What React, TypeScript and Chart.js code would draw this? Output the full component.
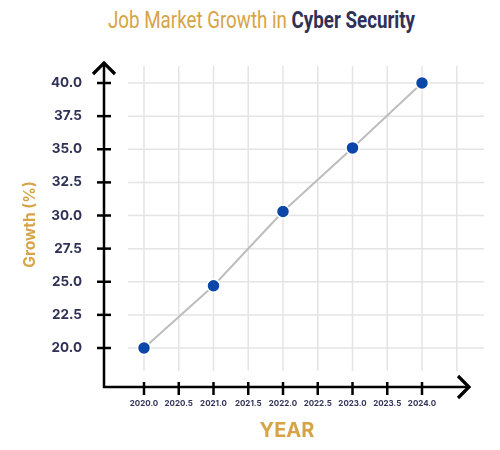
import React, { useEffect, useLayoutEffect, useRef } from "react";
import { Chart, registerables } from "chart.js";

Chart.register(...registerables);

const years = [2020, 2021, 2022, 2023, 2024];
const growth = [20, 24.7, 30.3, 35.1, 40];
const yTicks = [20, 22.5, 25, 27.5, 30, 32.5, 35, 37.5, 40];
const xTicks = [2020, 2020.5, 2021, 2021.5, 2022, 2022.5, 2023, 2023.5, 2024];
const xGridExtra = [2024.5];

const GOLD = "#D6A446";
const NAVY = "#2F3157";

const axesPlugin = {
  id: "handAxes",
  beforeDatasetsDraw(chart: any) {
    const { ctx, chartArea, scales } = chart;
    const xs = scales.x;
    const ys = scales.y;
    ctx.save();
    ctx.strokeStyle = "#e4e4e4";
    ctx.lineWidth = 1.5;
    yTicks.forEach((v) => {
      const y = ys.getPixelForValue(v);
      ctx.beginPath();
      ctx.moveTo(chartArea.left + 24, y);
      ctx.lineTo(chartArea.right + 14, y);
      ctx.stroke();
    });
    [...xTicks, ...xGridExtra].forEach((v) => {
      const x = xs.getPixelForValue(v);
      ctx.beginPath();
      ctx.moveTo(x, chartArea.top + 4);
      ctx.lineTo(x, chartArea.bottom - 16);
      ctx.stroke();
    });
    ctx.restore();
  },
  afterDraw(chart: any) {
    const { ctx, chartArea, scales } = chart;
    const xs = scales.x;
    const ys = scales.y;
    const L = chartArea.left;
    const B = chartArea.bottom;
    ctx.save();
    ctx.strokeStyle = "#000";
    ctx.lineCap = "butt";
    ctx.lineWidth = 2.5;
    ctx.beginPath();
    ctx.moveTo(L, chartArea.top + 1);
    ctx.lineTo(L, B);
    ctx.lineTo(chartArea.right - 1, B);
    ctx.stroke();
    yTicks.forEach((v) => {
      const y = ys.getPixelForValue(v);
      ctx.beginPath();
      ctx.moveTo(L - 7, y);
      ctx.lineTo(L + 7, y);
      ctx.stroke();
    });
    xTicks.forEach((v) => {
      const x = xs.getPixelForValue(v);
      ctx.beginPath();
      ctx.moveTo(x, B - 5);
      ctx.lineTo(x, B + 8);
      ctx.stroke();
    });
    ctx.lineWidth = 3.2;
    ctx.lineJoin = "miter";
    ctx.beginPath();
    ctx.moveTo(L - 11, chartArea.top + 12);
    ctx.lineTo(L, chartArea.top + 1);
    ctx.lineTo(L + 11, chartArea.top + 12);
    ctx.stroke();
    ctx.beginPath();
    ctx.moveTo(chartArea.right - 12, B - 11);
    ctx.lineTo(chartArea.right - 1, B);
    ctx.lineTo(chartArea.right - 12, B + 11);
    ctx.stroke();
    ctx.restore();
  },
};

const TITLE_WIDTH = 307;

export default function App() {
  const ref = useRef<HTMLCanvasElement | null>(null);
  const titleRef = useRef<HTMLSpanElement | null>(null);

  useLayoutEffect(() => {
    const el = titleRef.current;
    if (!el) return;
    const w = el.getBoundingClientRect().width;
    if (w > 0) el.style.transform = `scaleX(${TITLE_WIDTH / w})`;
  }, []);

  useEffect(() => {
    if (!ref.current) return;
    const chart = new Chart(ref.current, {
      type: "line",
      data: {
        datasets: [
          {
            label: "Growth (%)",
            data: years.map((y, i) => ({ x: y, y: growth[i] })),
            borderColor: "#BDBDBD",
            borderWidth: 2,
            pointBackgroundColor: "#0A47A8",
            pointBorderColor: "#ffffff",
            pointBorderWidth: 1.5,
            pointRadius: 6.5,
            tension: 0,
          },
        ],
      },
      options: {
        animation: false,
        responsive: false,
        devicePixelRatio: 1,
        layout: { padding: { top: 62, right: 30, left: 0, bottom: 0 } },
        plugins: {
          legend: { display: false },
          title: { display: false },
          tooltip: { enabled: false },
        },
        scales: {
          x: {
            type: "linear",
            min: 2019.4245,
            max: 2024.6906,
            afterBuildTicks: (s: any) => {
              s.ticks = xTicks.map((v) => ({ value: v }));
            },
            afterFit: (s: any) => {
              s.height = 63;
            },
            grid: { display: false },
            border: { display: false },
            ticks: {
              padding: 4,
              autoSkip: false,
              maxRotation: 0,
              color: NAVY,
              font: { family: "Inter, 'Noto Sans', sans-serif", size: 8, weight: "bold" },
              callback: (v: any) => Number(v).toFixed(1),
            },
            title: {
              display: true,
              text: "YEAR",
              color: GOLD,
              padding: { top: 0, bottom: 7 },
              font: { family: "Inter, 'Noto Sans', sans-serif", size: 20, weight: "bold" },
            },
          },
          y: {
            type: "linear",
            min: 17.057,
            max: 41.585,
            afterBuildTicks: (s: any) => {
              s.ticks = yTicks.map((v) => ({ value: v }));
            },
            afterFit: (s: any) => {
              s.width = 104;
            },
            grid: { display: false },
            border: { display: false },
            ticks: {
              padding: 14,
              color: NAVY,
              font: { family: "Inter, 'Noto Sans', sans-serif", size: 13.5, weight: "bold" },
              callback: (v: any) => Number(v).toFixed(1),
            },
            title: {
              display: true,
              text: "Growth (%)",
              color: GOLD,
              padding: { top: 21, bottom: 0 },
              font: { family: "Inter, 'Noto Sans', sans-serif", size: 15.5, weight: "bold" },
            },
          },
        },
      },
      plugins: [axesPlugin],
    });
    return () => chart.destroy();
  }, []);

  return (
    <div style={{ position: "absolute", left: 0, top: 0, width: 500, height: 450, background: "#fff" }}>
      <div
        style={{
          position: "absolute",
          left: 0,
          top: 5,
          width: 524,
          textAlign: "center",
          fontFamily: "Roboto, 'Liberation Sans', sans-serif",
          fontSize: 24,
          lineHeight: "30px",
          whiteSpace: "nowrap",
        }}
      >
        <span ref={titleRef} style={{ display: "inline-block", transformOrigin: "center" }}>
          <span style={{ color: GOLD }}>Job Market Growth in </span>
          <span style={{ color: NAVY, fontWeight: "bold" }}>Cyber Security</span>
        </span>
      </div>
      <canvas ref={ref} width={500} height={450} style={{ position: "absolute", left: 0, top: 0, width: 500, height: 450 }} />
    </div>
  );
}
